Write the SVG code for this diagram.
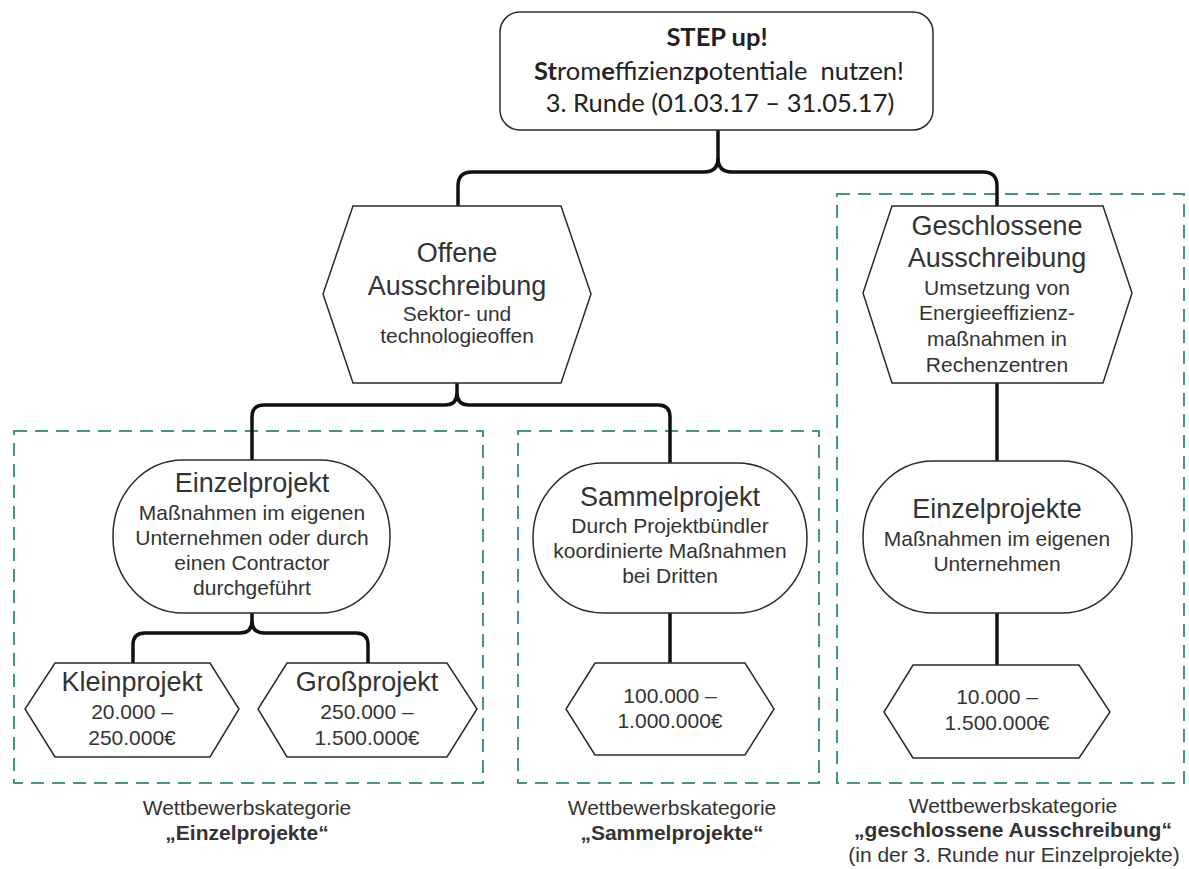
<svg xmlns="http://www.w3.org/2000/svg" width="1189" height="869" viewBox="0 0 1189 869">
<style>
.bg{fill:#fff}
.node{fill:#fff;stroke:#2a2a2a;stroke-width:1.5}
.grp{fill:none;stroke:#3f9a6e;stroke-width:2;stroke-dasharray:13 8}
.con{fill:none;stroke:#111;stroke-width:3.5;stroke-linejoin:round}
text{font-family:"Liberation Sans",Arial,sans-serif;fill:#333;text-anchor:middle}
.big{font-size:27px}
.sm{font-size:21px}
.cap{font-size:21px}
.b{font-weight:bold}
.top{font-family:Lato,"Liberation Sans",sans-serif;font-size:25.5px;fill:#222}
</style>
<rect class="bg" x="0" y="0" width="1189" height="869"/>

<g id="groups">
<rect id="grp-einzel" class="grp" x="14" y="431" width="469" height="352"/>
<rect id="grp-sammel" class="grp" x="518" y="431" width="301" height="352"/>
<rect id="grp-geschlossen" class="grp" x="837" y="194" width="347" height="589"/>
</g>

<g id="connectors">
<path class="con" d="M718,130 V158 Q718,172 704,172 H472 Q458,172 458,186 V206"/>
<path class="con" d="M718,158 Q718,172 732,172 H983 Q997,172 997,186 V206"/>
<path class="con" d="M457,383 V393 Q457,405 445,405 H264 Q252,405 252,417 V460"/>
<path class="con" d="M457,393 Q457,405 469,405 H658 Q670,405 670,417 V463"/>
<path class="con" d="M252,613 V621 Q252,633 240,633 H145 Q133,633 133,645 V663"/>
<path class="con" d="M252,621 Q252,633 264,633 H356 Q368,633 368,645 V663"/>
<path class="con" d="M670,613 V663"/>
<path class="con" d="M997,383 V461"/>
<path class="con" d="M997,613 V665"/>
</g>

<g id="step-up">
<rect class="node" x="500" y="12" width="433" height="118" rx="20"/>
<text class="top b" x="717" y="46">STEP up!</text>
<text class="top" x="719" y="80" xml:space="preserve"><tspan class="b">St</tspan>rom<tspan class="b">e</tspan>ffizienz<tspan class="b">p</tspan>otentiale  nutzen!</text>
<text class="top" x="720" y="112">3. Runde (01.03.17 – 31.05.17)</text>
</g>

<g id="offene">
<polygon class="node" points="353,206 561,206 591,294 561,383 353,383 323,294"/>
<text class="big" x="457" y="262">Offene</text>
<text class="big" x="457" y="295">Ausschreibung</text>
<text class="sm" x="457" y="321">Sektor- und</text>
<text class="sm" x="457" y="343">technologieoffen</text>
</g>

<g id="geschlossene">
<polygon class="node" points="892,206 1103,206 1132,293 1103,383 892,383 863,293"/>
<text class="big" x="997" y="235">Geschlossene</text>
<text class="big" x="997" y="267">Ausschreibung</text>
<text class="sm" x="997" y="295">Umsetzung von</text>
<text class="sm" x="997" y="320">Energieeffizienz-</text>
<text class="sm" x="997" y="346">maßnahmen in</text>
<text class="sm" x="997" y="372">Rechenzentren</text>
</g>

<g id="einzelprojekt">
<rect class="node" x="113" y="460" width="277" height="153" rx="70" ry="76"/>
<text class="big" x="252" y="492">Einzelprojekt</text>
<text class="sm" x="252" y="520">Maßnahmen im eigenen</text>
<text class="sm" x="252" y="545">Unternehmen oder durch</text>
<text class="sm" x="252" y="570">einen Contractor</text>
<text class="sm" x="252" y="595">durchgeführt</text>
</g>

<g id="sammelprojekt">
<rect class="node" x="533" y="463" width="274" height="150" rx="70" ry="75"/>
<text class="big" x="670" y="506">Sammelprojekt</text>
<text class="sm" x="670" y="533">Durch Projektbündler</text>
<text class="sm" x="670" y="558">koordinierte Maßnahmen</text>
<text class="sm" x="670" y="583">bei Dritten</text>
</g>

<g id="einzelprojekte">
<rect class="node" x="863" y="461" width="269" height="152" rx="70" ry="76"/>
<text class="big" x="997" y="518">Einzelprojekte</text>
<text class="sm" x="997" y="546">Maßnahmen im eigenen</text>
<text class="sm" x="997" y="571">Unternehmen</text>
</g>

<g id="kleinprojekt">
<polygon class="node" points="55,663 210,663 239,709 210,757 55,757 25,709"/>
<text class="big" x="132" y="691">Kleinprojekt</text>
<text class="sm" x="132" y="719">20.000 –</text>
<text class="sm" x="132" y="745">250.000€</text>
</g>

<g id="grossprojekt">
<polygon class="node" points="287,663 447,663 477,709 447,757 287,757 258,709"/>
<text class="big" x="367" y="691">Großprojekt</text>
<text class="sm" x="367" y="719">250.000 –</text>
<text class="sm" x="367" y="745">1.500.000€</text>
</g>

<g id="sammel-betrag">
<polygon class="node" points="595,663 745,663 774,709 745,755 595,755 566,709"/>
<text class="sm" x="670" y="703">100.000 –</text>
<text class="sm" x="670" y="728">1.000.000€</text>
</g>

<g id="geschlossen-betrag">
<polygon class="node" points="913,665 1079,665 1110,712 1079,758 913,758 884,712"/>
<text class="sm" x="997" y="704">10.000 –</text>
<text class="sm" x="997" y="730">1.500.000€</text>
</g>

<g id="label-einzel">
<text class="cap" x="247" y="815">Wettbewerbskategorie</text>
<text class="cap b" x="247" y="840">„Einzelprojekte“</text>
</g>
<g id="label-sammel">
<text class="cap" x="672" y="815">Wettbewerbskategorie</text>
<text class="cap b" x="672" y="840">„Sammelprojekte“</text>
</g>
<g id="label-geschlossen">
<text class="cap" x="1013" y="813">Wettbewerbskategorie</text>
<text class="cap b" x="1013" y="837">„geschlossene Ausschreibung“</text>
<text class="cap" x="1014" y="862">(in der 3. Runde nur Einzelprojekte)</text>
</g>
</svg>
